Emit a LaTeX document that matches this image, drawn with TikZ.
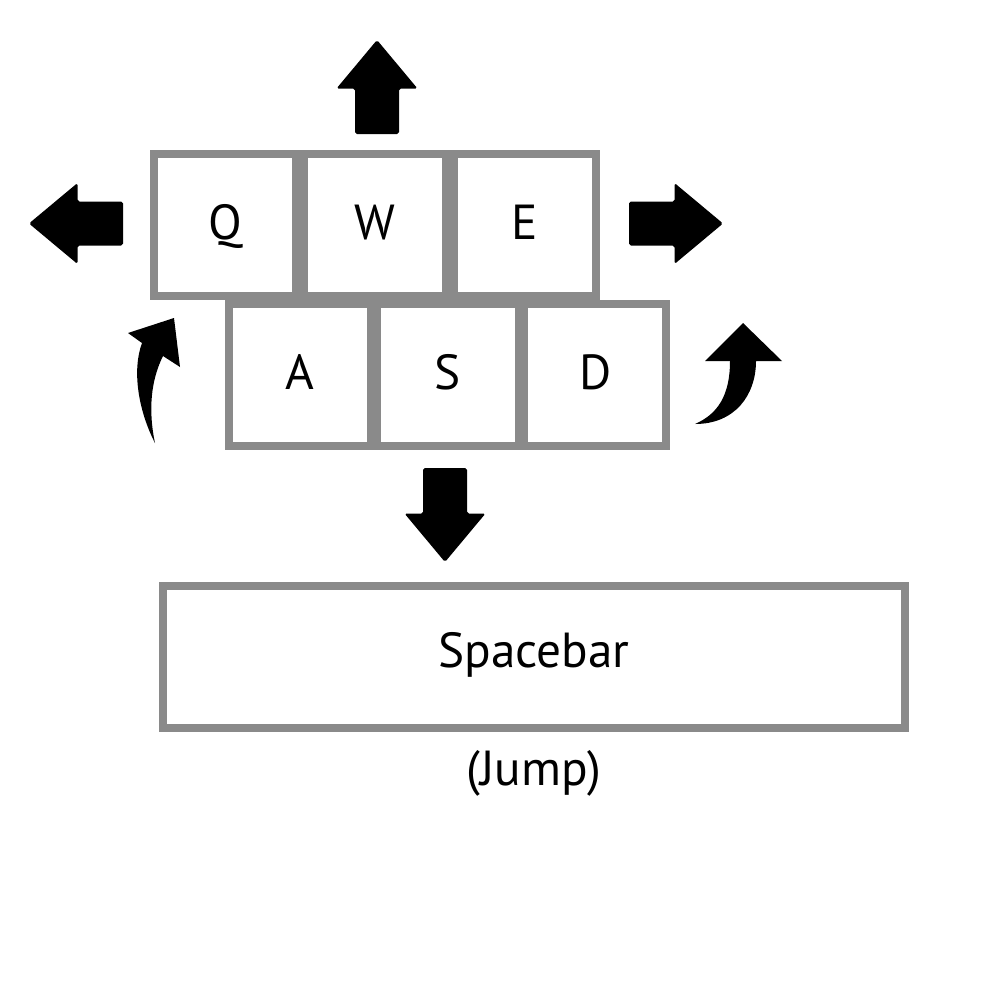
\documentclass[tikz,border=0pt]{standalone}
\usepackage{fontspec}
\setmainfont{PT Sans}
\definecolor{keygray}{HTML}{8A8A8A}
\tikzset{blockarrow/.pic={
  \fill[rounded corners=0.5pt] (0,0) -- (40.5,48.5) -- (22,48.5) -- (22,94)
    -- (-22,94) -- (-22,48.5) -- (-40.5,48.5) -- cycle;}}

\begin{document}
\begin{tikzpicture}[x=0.01cm,y=-0.01cm,node distance=1.5cm,
                    font=\fontsize{14pt}{16pt}\selectfont,
                    key/.style={draw=keygray,line width=0.8mm,fill=white,
                                minimum size=1.42cm,inner sep=0pt,
                                text height=0.85em,text depth=0pt},
                    spacekey/.style={key,minimum width=7.42cm,
                                     text height=0.7em,text depth=0.12em}]
  \useasboundingbox[fill=white] (0,0) rectangle (1000,1000);

  \node[key] (Q) at (225,225) {Q};
  \node[key] (W) [right of=Q] {W};
  \node[key] (E) [right of=W] {E};
  \node[key] (A) at (300,375) {A};
  \node[key] (S) [right of=A, node distance=1.475cm] {S};
  \node[key] (D) [right of=S, node distance=1.475cm] {D};

  \node[spacekey] (space) at (534,657) {Spacebar};
  \node (jump) [below of=space, node distance=1.16cm] {(Jump)};

  \pic at (377,40) {blockarrow};
  \pic[rotate=90] at (29,223.5) {blockarrow};
  \pic[rotate=-90] at (723,223.5) {blockarrow};
  \pic[rotate=180] at (445,562) {blockarrow};

  \fill (155,443) .. controls (138,410) and (132,370) .. (142,343)
        -- (128,333) -- (174,318) -- (180,367) -- (163,356)
        .. controls (151,380) and (148,410) .. (155,443) -- cycle;
  \fill (695,424) .. controls (718,414) and (730,395) .. (730,361)
        -- (705,361) -- (743,323) -- (782,361) -- (756,361)
        .. controls (756,395) and (735,424) .. (695,424) -- cycle;
\end{tikzpicture}
\end{document}
